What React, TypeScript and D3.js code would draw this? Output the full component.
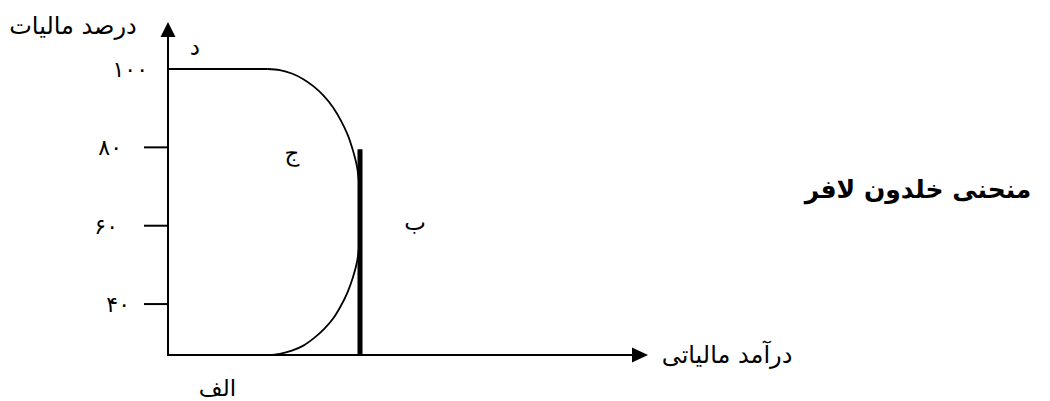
import React from "react";
import * as d3 from "d3";

// ---- data ----
const yTickValues = [100, 80, 60, 40];
const yTickLabels = ["۱۰۰", "۸۰", "۶۰", "۴۰"];
// Laffer-Khaldun curve: [tax revenue, tax rate]
const flatTop: [number, number][] = [
  [0, 100],
  [20.8, 100],
];
const curvePoints: [number, number][] = [
  [20.8, 100],
  [23.3, 99.7],
  [25.8, 98.85],
  [28.2, 97.4],
  [30.4, 95.5],
  [32.5, 93.1],
  [34.4, 90.2],
  [36.0, 86.9],
  [37.4, 83.3],
  [38.5, 79.3],
  [39.35, 75.2],
  [39.8, 70.9],
  [40, 66.6],
  [40, 58.9],
  [39.8, 54.7],
  [39.35, 50.6],
  [38.5, 46.7],
  [37.4, 43.0],
  [36.0, 39.5],
  [34.4, 36.3],
  [32.5, 33.6],
  [30.4, 31.3],
  [28.2, 29.4],
  [25.8, 28.1],
  [23.3, 27.3],
  [20.8, 27],
];
const maxRevenueLine: [number, number][] = [
  [40, 79.5],
  [40, 27],
];
const pointLabels = [
  { text: "د", rev: 5.6, rate: 103.6 },
  { text: "ج", rev: 25.8, rate: 76.5 },
  { text: "ب", rev: 51.5, rate: 59.0 },
  { text: "الف", rev: 10.3, rate: 16.5 },
];
const yAxisTitle = "درصد ماليات";
const xAxisTitle = "درآمد مالیاتی";
const chartTitle = "منحنی خلدون لافر";

const W = 1050;
const H = 401;
const FONT = "'DejaVu Sans', sans-serif";

export default function App() {
  const x = d3.scaleLinear().domain([0, 100]).range([168, 648]);
  const y = d3.scaleLinear().domain([27, 100]).range([355, 69]);
  const line = d3
    .line<[number, number]>()
    .x((d) => x(d[0]))
    .y((d) => y(d[1]));
  const curveLine = d3
    .line<[number, number]>()
    .x((d) => x(d[0]))
    .y((d) => y(d[1]))
    .curve(d3.curveCatmullRom.alpha(0.5));

  const x0 = x(0);
  const yBase = y(27);
  const yTipY = 22;
  const xTipX = x(100);
  const labelRight = [148, 122, 118, 130];

  return (
    <svg
      width={W}
      height={H}
      style={{ position: "absolute", left: 0, top: 0 }}
      fontFamily={FONT}
    >
      <rect width={W} height={H} fill="#fff" />
      {/* y axis */}
      <line x1={x0} x2={x0} y1={yBase + 1} y2={yTipY + 12} stroke="#000" strokeWidth={2} />
      <path
        d={`M${x0 - 7.5},${yTipY + 15} L${x0},${yTipY} L${x0 + 7.5},${yTipY + 15} Z`}
        fill="#000"
      />
      {/* x axis */}
      <line x1={x0 - 1} x2={xTipX - 14} y1={yBase} y2={yBase} stroke="#000" strokeWidth={2} />
      <path
        d={`M${xTipX - 16},${yBase - 7.5} L${xTipX},${yBase} L${xTipX - 16},${yBase + 7.5} Z`}
        fill="#000"
      />
      {/* ticks */}
      {yTickValues.map((v, i) => (
        <g key={v}>
          {v !== 100 && (
            <line x1={x0 - 24} x2={x0} y1={y(v)} y2={y(v)} stroke="#000" strokeWidth={2} />
          )}
          <text
            x={labelRight[i]}
            y={y(v) + 8}
            textAnchor="end"
            fontSize={22}
            fill="#000"
          >
            {yTickLabels[i]}
          </text>
        </g>
      ))}
      {/* curve */}
      <path d={line(flatTop) || ""} fill="none" stroke="#000" strokeWidth={2} />
      <path d={curveLine(curvePoints) || ""} fill="none" stroke="#000" strokeWidth={1.8} />
      {/* vertical max revenue line */}
      <path d={line(maxRevenueLine) || ""} fill="none" stroke="#000" strokeWidth={5} />
      {/* point labels */}
      {pointLabels.map((p) => (
        <text
          key={p.text}
          x={x(p.rev)}
          y={y(p.rate)}
          textAnchor="middle"
          fontSize={23}
          fill="#000"
        >
          {p.text}
        </text>
      ))}
      {/* axis titles */}
      <text x={73} y={34} fontSize={24} fill="#000" textAnchor="middle">
        {yAxisTitle}
      </text>
      <text x={727} y={363} fontSize={24} fill="#000" textAnchor="middle">
        {xAxisTitle}
      </text>
      {/* chart title */}
      <text x={918} y={198} fontSize={25} fontWeight="bold" fill="#000" textAnchor="middle">
        {chartTitle}
      </text>
    </svg>
  );
}
